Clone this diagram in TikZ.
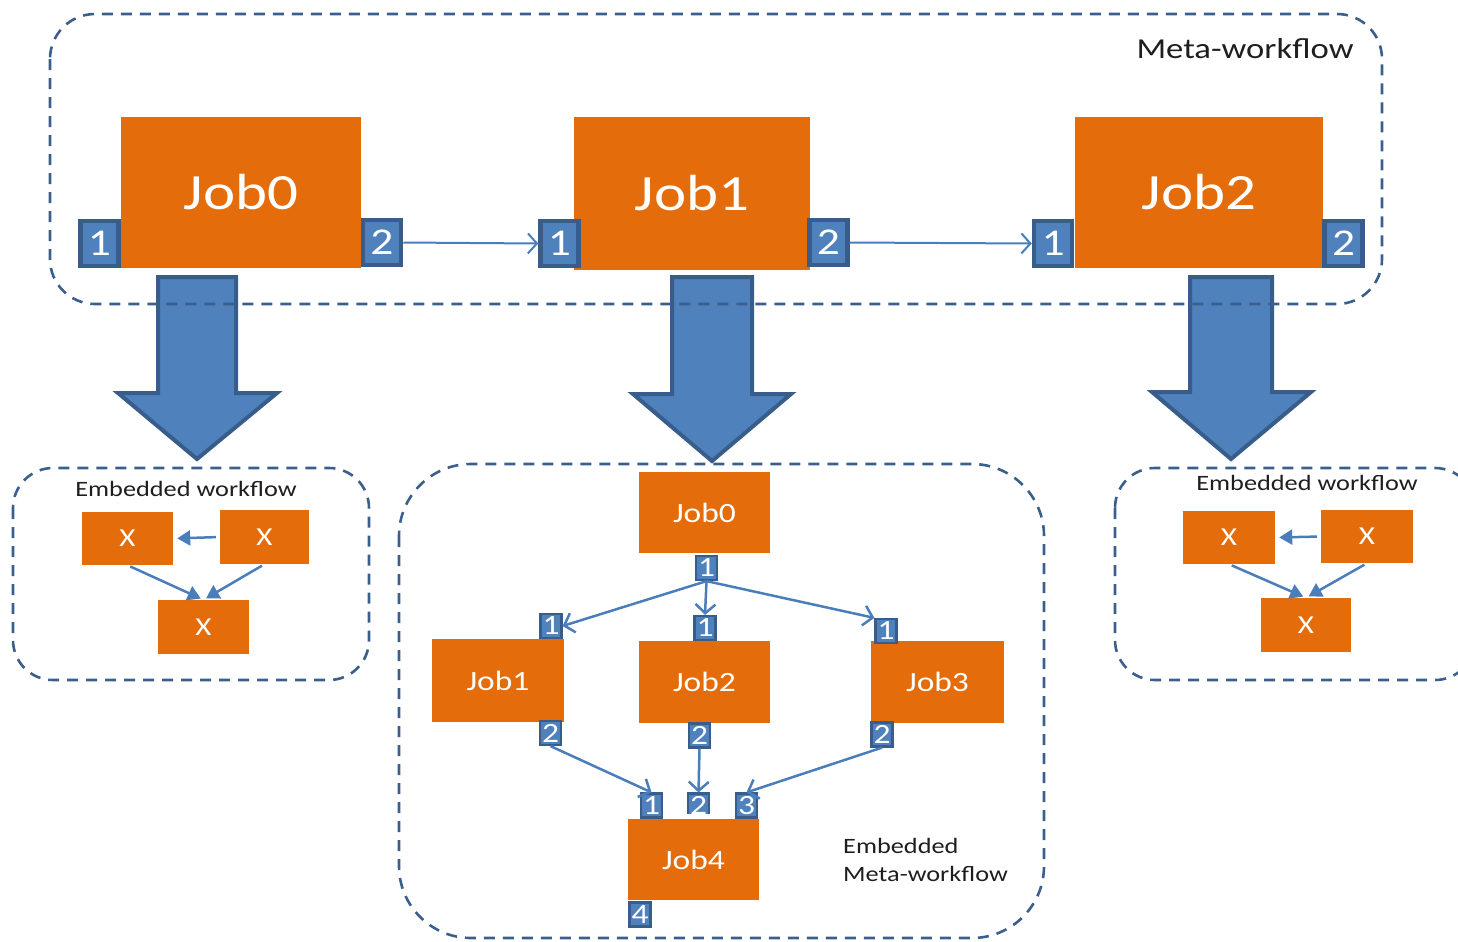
\documentclass[tikz,border=0pt]{standalone}
\usepackage{fontspec}
\setmainfont{Carlito}[FakeStretch=1.2]
\usetikzlibrary{arrows.meta}
\definecolor{jorange}{HTML}{E46C0A}
\definecolor{pblue}{HTML}{4F81BD}
\definecolor{pdark}{HTML}{385D8A}
\definecolor{lblue}{HTML}{4A7EBB}
\definecolor{dashc}{HTML}{3B5F8C}
\definecolor{txtc}{HTML}{1E1E1E}
\newcommand{\fsz}[1]{\fontsize{#1}{#1}\selectfont}
\begin{document}
\begin{tikzpicture}[x=1bp,y=-1bp,
 jobbox/.style={fill=jorange, text=white, inner sep=0pt},
 bigjob/.style={jobbox, font=\fsz{51}},
 smalljob/.style={jobbox, font=\fsz{28}},
 xjob/.style={jobbox, font=\fsz{26}},
 bigport/.style={fill=pblue, draw=pdark, line width=4.5bp, text=white, inner sep=0pt, minimum width=38bp, minimum height=45bp, font=\fsz{38}},
 smallport/.style={fill=pblue, draw=pdark, line width=2.2bp, text=white, inner sep=0pt, minimum width=21bp, minimum height=24bp, font=\fsz{28}},
 fatarrow/.style={fill=pblue, draw=pdark, line width=4bp, line join=miter},
 wfbox/.style={draw=dashc, line width=2.6bp, dash pattern=on 11bp off 8bp},
 topflow/.style={draw=lblue, line width=2bp, -{Straight Barb[length=9bp,width=20bp]}},
 midflow/.style={draw=lblue, line width=2.5bp, -{Straight Barb[length=9bp,width=20bp]}},
 xflow/.style={draw=lblue, line width=2.5bp, -{Triangle[length=13bp,width=15bp]}},
 lbl/.style={text=txtc, inner sep=0pt}]
\useasboundingbox (0,0) rectangle (1458,941);

% fat arrows
\draw[fatarrow] (158,277) -- (236,277) -- (236,393) -- (277,393) -- (197,459) -- (118,393) -- (158,393) -- cycle;
\draw[fatarrow] (672,277) -- (752,277) -- (752,394) -- (791,394) -- (712,461) -- (633,394) -- (672,394) -- cycle;
\draw[fatarrow] (1190,277) -- (1272,277) -- (1272,392) -- (1311,392) -- (1231,459) -- (1152,392) -- (1190,392) -- cycle;

% dashed workflow boxes
\draw[wfbox, rounded corners=45bp] (50,14) rectangle (1382,304);
\draw[wfbox, rounded corners=40bp] (13,468) rectangle (369,680);
\draw[wfbox, rounded corners=40bp] (1115,468) rectangle (1475,680);
\draw[wfbox, rounded corners=72bp] (399,464) rectangle (1044,938);

% labels
\node[lbl, font=\fsz{29}] (tmeta) at (1245,49) {Meta-workflow};
\node[lbl, font=\fsz{22}] (tembl) at (186,489) {Embedded workflow};
\node[lbl, font=\fsz{22}] (tembr) at (1307,483) {Embedded workflow};
\node[lbl, font=\fontsize{22}{28}\selectfont, align=left, anchor=north west] (tembm) at (843,838) {Embedded\\Meta-workflow};

% top jobs
\node[bigjob, minimum width=240bp, minimum height=151bp] (J0) at (241,192.5) {Job0};
\node[bigjob, minimum width=236bp, minimum height=153bp] (J1) at (692,193.5) {Job1};
\node[bigjob, minimum width=248bp, minimum height=151bp] (J2) at (1199,192.5) {Job2};
\node[bigport] (J0a) at (99.5,243.5) {1};
\node[bigport] (J0b) at (382,242.5) {2};
\node[bigport] (J1a) at (559.5,243.5) {1};
\node[bigport] (J1b) at (828.5,242.5) {2};
\node[bigport] (J2a) at (1053,243.5) {1};
\node[bigport] (J2b) at (1343.5,243.5) {2};
\draw[topflow] (J0b.east) -- (J1a.west);
\draw[topflow] (J1b.east) -- (J2a.west);

% left embedded workflow
\node[xjob, minimum width=91bp, minimum height=53bp] (LX1) at (127.5,538.5) {X};
\node[xjob, minimum width=89bp, minimum height=54bp] (LX2) at (264.5,537) {X};
\node[xjob, minimum width=91bp, minimum height=54bp] (LX3) at (203.5,627) {X};
\draw[xflow, shorten <=4bp, shorten >=4bp] (LX2.west) -- (LX1.east);
\draw[xflow, shorten <=3bp, shorten >=3bp] (LX1.south) -- (LX3.north);
\draw[xflow, shorten <=3bp, shorten >=3bp] (LX2.south) -- (LX3.north);

% right embedded workflow
\node[xjob, minimum width=92bp, minimum height=53bp] (RX1) at (1229,537.5) {X};
\node[xjob, minimum width=92bp, minimum height=53bp] (RX2) at (1367,536.5) {X};
\node[xjob, minimum width=90bp, minimum height=54bp] (RX3) at (1306,625) {X};
\draw[xflow, shorten <=4bp, shorten >=4bp] (RX2.west) -- (RX1.east);
\draw[xflow, shorten <=3bp, shorten >=3bp] (RX1.south) -- (RX3.north);
\draw[xflow, shorten <=3bp, shorten >=3bp] (RX2.south) -- (RX3.north);

% embedded meta-workflow
\node[smalljob, minimum width=131bp, minimum height=81bp] (M0) at (704.5,512.5) {Job0};
\node[smalljob, minimum width=132bp, minimum height=83bp] (M1) at (498,680.5) {Job1};
\node[smalljob, minimum width=131bp, minimum height=82bp] (M2) at (704.5,682) {Job2};
\node[smalljob, minimum width=133bp, minimum height=82bp] (M3) at (937.5,682) {Job3};
\node[smalljob, minimum width=131bp, minimum height=81bp] (M4) at (693.5,859.5) {Job4};
\node[smallport] (M0a) at (706.5,568) {1};
\node[smallport] (M1a) at (551,626) {1};
\node[smallport] (M1b) at (550.5,733) {2};
\node[smallport] (M2a) at (705,628) {1};
\node[smallport] (M2b) at (699.5,735.5) {2};
\node[smallport] (M3a) at (886,631) {1};
\node[smallport] (M3b) at (882,734.5) {2};
\node[smallport] (M4a) at (651.5,805.5) {1};
\begin{scope}
\clip (680,780) rectangle (720,813);
\node[smallport] (M4b) at (698.5,805.5) {2};
\end{scope}
\node[smallport] (M4c) at (746.5,805.5) {3};
\node[smallport] (M4d) at (640,914.5) {4};
\draw[midflow] (M0a.south) -- (M1a.east);
\draw[midflow] (M0a.south) -- (M2a.north);
\draw[midflow] (M0a.south) -- (M3a.north west);
\draw[midflow] (M1b.south) -- (M4a.north);
\draw[midflow] (M2b.south) -- (M4b.north);
\draw[midflow] (M3b.south) -- (M4c.north);
\end{tikzpicture}
\end{document}
